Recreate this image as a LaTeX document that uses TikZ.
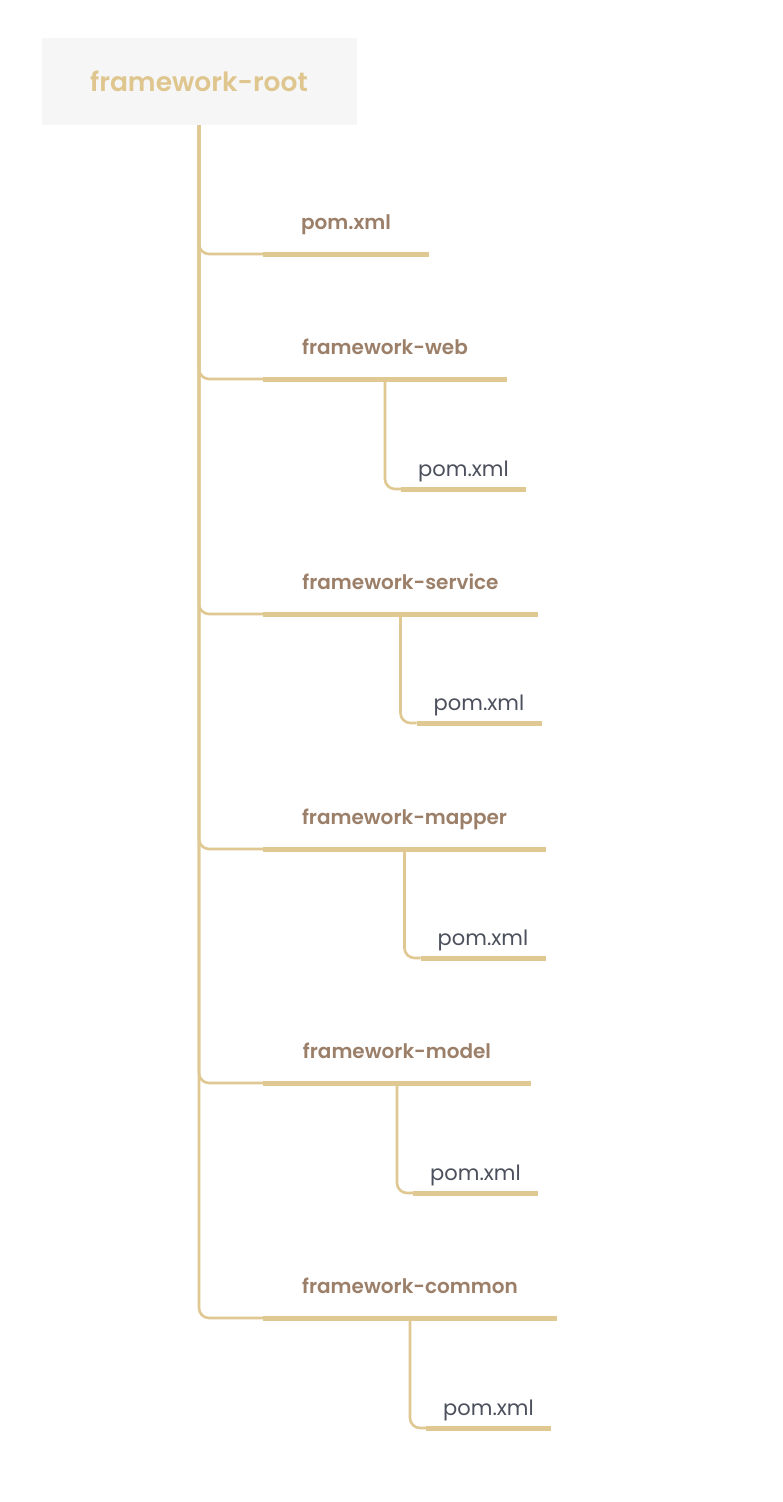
\documentclass[tikz,border=0pt]{standalone}
\usepackage{fontspec}
\setmainfont{Poppins}
\newfontfamily\psemi{Poppins SemiBold}
\usetikzlibrary{calc}
\definecolor{linec}{HTML}{DFC891}
\definecolor{rootc}{HTML}{DFC68E}
\definecolor{brc}{HTML}{9B7F69}
\definecolor{leafc}{HTML}{4B505C}
\definecolor{rootfill}{HTML}{F6F6F6}
\begin{document}
\begin{tikzpicture}[x=1pt,y=-1pt,
  rootbox/.style={fill=rootfill,minimum width=315pt,minimum height=87pt,inner sep=0pt,text=rootc,font=\fontsize{26.5}{30}\selectfont\psemi},
  thinline/.style={draw=linec,line width=2.6pt,rounded corners=10pt},
  thickline/.style={draw=linec,line width=5pt},
  brlabel/.style={anchor=base,text=brc,inner sep=0pt,font=\fontsize{20}{24}\selectfont\psemi},
  leaflabel/.style={anchor=base,text=leafc,inner sep=0pt,font=\fontsize{21}{24}\selectfont}]
\useasboundingbox (0,0) rectangle (782,1502);
\fill[white] (0,0) rectangle (782,1502);
\node[rootbox] (root) at (199,81.5) {framework-root};
% branches: y, end x, label
\foreach \n/\y/\xe/\lab in {1/254/429/pom.xml,2/379/507/framework-web,3/614/538/framework-service,4/849/546/framework-mapper,5/1083/531/framework-model,6/1318/557/framework-common}{
  \coordinate (b\n) at (263,\y);
  \coordinate (e\n) at (\xe,\y);
  \draw[thinline] (root.south) |- (b\n);
  \draw[thickline] (b\n) -- (e\n);
  \node[brlabel] (l\n) at ($(b\n)!0.5!(e\n)+(0,-25)$) {\lab};
}
% leaves
\foreach \n/\ly in {2/489,3/723,4/958,5/1193,6/1428}{
  \coordinate (c\n) at ($(b\n)!0.5!(e\n)$);
  \coordinate (lb\n) at ($(c\n|-0,\ly)+(16,0)$);
  \coordinate (le\n) at ($(lb\n)+(125,0)$);
  \draw[thinline] (c\n) |- (lb\n);
  \draw[thickline] (lb\n) -- (le\n);
  \node[leaflabel] (p\n) at ($(lb\n)!0.5!(le\n)+(0,-13)$) {pom.xml};
}
\end{tikzpicture}
\end{document}
